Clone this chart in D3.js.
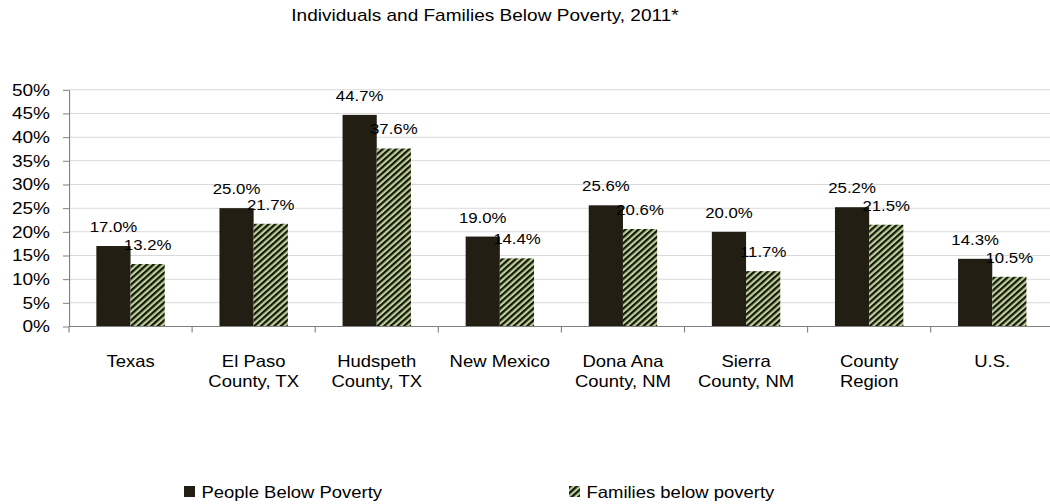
<!DOCTYPE html>
<html>
<head>
<meta charset="utf-8">
<script src="https://cdn.jsdelivr.net/npm/d3@7"></script>
<style>
  body { margin: 0; background: #fff; }
  svg text { font-family: "Liberation Sans", Arial, sans-serif; fill: #000; }
</style>
</head>
<body>
<div id="chart"></div>
<script>
// data
var categories = [
  ["Texas"],
  ["El Paso", "County, TX"],
  ["Hudspeth", "County, TX"],
  ["New Mexico"],
  ["Dona Ana", "County, NM"],
  ["Sierra", "County, NM"],
  ["County", "Region"],
  ["U.S."]
];
var peopleBelow = [17.0, 25.0, 44.7, 19.0, 25.6, 20.0, 25.2, 14.3];
var familiesBelow = [13.2, 21.7, 37.6, 14.4, 20.6, 11.7, 21.5, 10.5];
var yTicks = [0, 5, 10, 15, 20, 25, 30, 35, 40, 45, 50];
var seriesNames = ["People Below Poverty", "Families below poverty"];

var svgWidth = 1050;
var svgHeight = 504;

// the original looks stretched sideways, so draw in a narrower space and scale x
var sx = 1.12;

var svg = d3.select("#chart")
  .append("svg")
  .attr("width", svgWidth)
  .attr("height", svgHeight);

var defs = svg.append("defs");
var hatch = defs.append("pattern")
  .attr("id", "hatch")
  .attr("patternUnits", "userSpaceOnUse")
  .attr("width", 4.2)
  .attr("height", 4.2)
  .attr("patternTransform", "rotate(45)");
hatch.append("rect")
  .attr("width", 4.2).attr("height", 4.2)
  .attr("fill", "#bcd296");
hatch.append("rect")
  .attr("width", 2.1).attr("height", 4.2)
  .attr("fill", "#15140e");

var g = svg.append("g")
  .attr("transform", `scale(${sx},1)`);

var plotLeft = 69 / sx;
var bandW = 123.1 / sx;
var plotRight = plotLeft + bandW * categories.length;
var y0 = 326.5, y50 = 89.8;

var x = d3.scaleBand()
  .domain(d3.range(categories.length))
  .range([plotLeft, plotRight])
  .paddingInner(0)
  .paddingOuter(0);

// two bars side by side in the middle of each band
var xSub = d3.scaleBand()
  .domain([0, 1])
  .range([0, bandW])
  .paddingOuter(0.8);

var y = d3.scaleLinear()
  .domain([0, 50])
  .range([y0, y50]);

// title
g.append("text")
  .attr("x", 485 / sx)
  .attr("y", 21)
  .attr("text-anchor", "middle")
  .attr("font-size", "17px")
  .text("Individuals and Families Below Poverty, 2011*");

// gridlines
g.append("g")
  .selectAll("line")
  .data(yTicks.slice(1))
  .enter()
  .append("line")
  .attr("x1", plotLeft)
  .attr("x2", plotRight)
  .attr("y1", d => y(d))
  .attr("y2", d => y(d))
  .attr("stroke", "#d9d9d9")
  .attr("stroke-width", 1);

// y axis
var leftAxis = d3.axisLeft(y)
  .tickValues(yTicks)
  .tickFormat(d => d + "%")
  .tickSizeInner(6 / sx)
  .tickSizeOuter(0)
  .tickPadding(13 / sx);

var yAxis = g.append("g")
  .attr("transform", `translate(${plotLeft},0)`)
  .call(leftAxis);
yAxis.select(".domain").attr("stroke", "#808080");
yAxis.selectAll(".tick line").attr("stroke", "#808080");
yAxis.selectAll(".tick text")
  .attr("font-size", "17px")
  .attr("font-family", "Liberation Sans, Arial, sans-serif")
  .attr("fill", "#000");

// bars
var groups = g.append("g")
  .selectAll("g")
  .data(categories)
  .enter()
  .append("g")
  .attr("transform", (d, i) => `translate(${x(i)},0)`);

groups.append("rect")
  .attr("x", xSub(0))
  .attr("width", xSub.bandwidth())
  .attr("y", (d, i) => y(peopleBelow[i]))
  .attr("height", (d, i) => y0 - y(peopleBelow[i]))
  .attr("fill", "#221e13");

groups.append("rect")
  .attr("x", xSub(1))
  .attr("width", xSub.bandwidth())
  .attr("y", (d, i) => y(familiesBelow[i]))
  .attr("height", (d, i) => y0 - y(familiesBelow[i]))
  .attr("fill", "url(#hatch)");

// data labels
groups.append("text")
  .attr("x", xSub(0) + xSub.bandwidth() / 2)
  .attr("y", (d, i) => y(peopleBelow[i]) - 14)
  .attr("text-anchor", "middle")
  .attr("font-size", "15px")
  .text((d, i) => peopleBelow[i].toFixed(1) + "%");

groups.append("text")
  .attr("x", xSub(1) + xSub.bandwidth() / 2)
  .attr("y", (d, i) => y(familiesBelow[i]) - 14)
  .attr("text-anchor", "middle")
  .attr("font-size", "15px")
  .text((d, i) => familiesBelow[i].toFixed(1) + "%");

// x axis line and ticks at band edges
g.append("line")
  .attr("x1", plotLeft)
  .attr("x2", plotRight)
  .attr("y1", y0)
  .attr("y2", y0)
  .attr("stroke", "#808080");

g.append("g")
  .selectAll("line")
  .data(d3.range(categories.length + 1))
  .enter()
  .append("line")
  .attr("x1", d => plotLeft + d * bandW)
  .attr("x2", d => plotLeft + d * bandW)
  .attr("y1", y0)
  .attr("y2", y0 + 6)
  .attr("stroke", "#808080");

// category labels
var catText = groups.append("text")
  .attr("text-anchor", "middle")
  .attr("font-size", "16.5px");
catText.selectAll("tspan")
  .data(d => d)
  .enter()
  .append("tspan")
  .attr("x", bandW / 2)
  .attr("y", (d, j) => 366.7 + j * 20)
  .text(d => d);

// legend
var legendX = [184 / sx, 569 / sx];
var legend = g.append("g")
  .selectAll("g")
  .data(seriesNames)
  .enter()
  .append("g")
  .attr("transform", (d, i) => `translate(${legendX[i]},486)`);

legend.append("rect")
  .attr("width", 11 / sx)
  .attr("height", 11)
  .attr("fill", (d, i) => i === 0 ? "#221e13" : "url(#hatch)");

legend.append("text")
  .attr("x", 17.5 / sx)
  .attr("y", 11.5)
  .attr("font-size", "16.5px")
  .text(d => d);
</script>
</body>
</html>
